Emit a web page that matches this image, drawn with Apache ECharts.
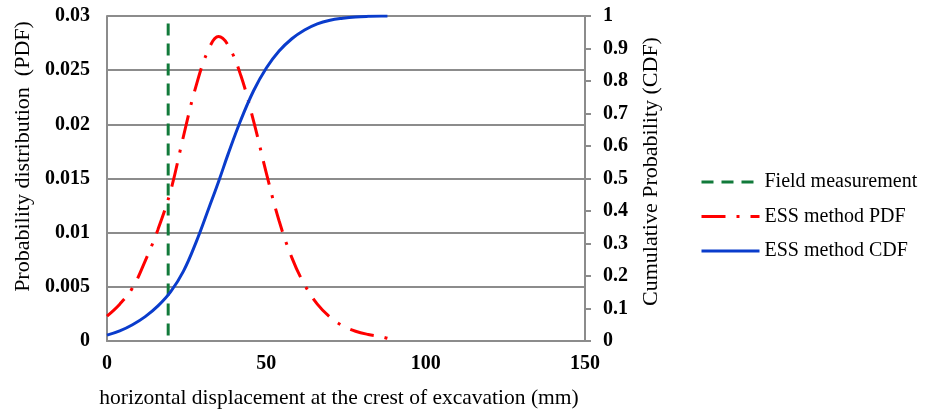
<!DOCTYPE html>
<html>
<head>
<meta charset="utf-8">
<script src="https://cdn.jsdelivr.net/npm/echarts@6/dist/echarts.min.js"></script>
<style>
  html, body { margin: 0; padding: 0; background: #fff; }
  #chart { width: 933px; height: 414px; }
</style>
</head>
<body>
<div id="chart"></div>
<script>
// Horizontal displacement (mm) at which both ESS curves are sampled
const displacement = [0, 4, 8, 12, 16, 20, 24, 28, 32, 35, 38, 42, 46, 50, 54, 58, 62, 66, 70, 74, 78, 82, 86, 88];
// ESS method probability density
const essPdf = [0.0023, 0.0034, 0.0049, 0.0074, 0.0103, 0.0139, 0.0189, 0.0236, 0.0270, 0.0281, 0.0273, 0.0245, 0.0203, 0.0155, 0.0111, 0.0077, 0.0052, 0.0034, 0.0022, 0.0014, 0.0009, 0.0006, 0.0004, 0.00025];
// ESS method cumulative probability
const essCdf = [0.018, 0.031, 0.050, 0.075, 0.108, 0.152, 0.215, 0.305, 0.410, 0.490, 0.575, 0.680, 0.770, 0.840, 0.892, 0.930, 0.957, 0.976, 0.987, 0.993, 0.997, 0.999, 1.0, 1.0];
// Field measurement (mm) drawn as a vertical marker, top to bottom
const fieldX = [19.2, 19.2];
const fieldY = [0.0293, 0];

const xTicks = [0, 50, 100, 150];
const pdfTicks = [0, 0.005, 0.01, 0.015, 0.02, 0.025, 0.03];
const cdfTicks = [0, 0.1, 0.2, 0.3, 0.4, 0.5, 0.6, 0.7, 0.8, 0.9, 1];

const serif = '"Liberation Serif", "Times New Roman", serif';
const gridGray = '#8c8c8c';

const zip = (xs, ys) => xs.map((x, i) => [x, ys[i]]);

const chart = echarts.init(document.getElementById('chart'), null, { renderer: 'canvas' });

chart.setOption({
  animation: false,
  backgroundColor: '#ffffff',
  grid: { left: 107, right: 348, top: 16, bottom: 72, containLabel: false },
  legend: {
    orient: 'vertical',
    left: 695,
    top: 167,
    itemWidth: 58,
    itemHeight: 14,
    itemGap: 14.5,
    itemStyle: { opacity: 0 },
    lineStyle: { width: 3 },
    textStyle: { fontFamily: serif, fontSize: 20, color: '#000' },
    data: ['Field measurement', 'ESS method PDF', 'ESS method CDF']
  },
  xAxis: {
    type: 'value',
    min: xTicks[0],
    max: xTicks[xTicks.length - 1],
    interval: 50,
    name: 'horizontal displacement at the crest of excavation (mm)',
    nameLocation: 'middle',
    nameGap: 46,
    nameTextStyle: { fontFamily: serif, fontSize: 21.5, color: '#000', padding: [0, 14, 0, 0] },
    axisLine: { lineStyle: { color: gridGray, width: 2 } },
    axisTick: { show: false },
    splitLine: { show: false },
    axisLabel: { fontFamily: serif, fontSize: 20, fontWeight: 'bold', color: '#000', margin: 13 }
  },
  yAxis: [
    {
      type: 'value',
      min: pdfTicks[0],
      max: pdfTicks[pdfTicks.length - 1],
      interval: 0.005,
      name: 'Probability distribution  (PDF)',
      nameLocation: 'middle',
      nameGap: 71,
      nameTextStyle: { fontFamily: serif, fontSize: 22, color: '#000', padding: [0, 0, 0, 44] },
      axisLine: { show: true, lineStyle: { color: gridGray, width: 2 } },
      axisTick: { show: false },
      splitLine: { show: true, lineStyle: { color: gridGray, width: 2 } },
      axisLabel: { fontFamily: serif, fontSize: 20, fontWeight: 'bold', color: '#000', margin: 17 }
    },
    {
      type: 'value',
      min: cdfTicks[0],
      max: cdfTicks[cdfTicks.length - 1],
      interval: 0.1,
      position: 'right',
      name: 'Cumulative Probability (CDF)',
      nameLocation: 'middle',
      nameGap: 55,
      nameRotate: 90,
      nameTextStyle: { fontFamily: serif, fontSize: 22, color: '#000', padding: [0, 0, 0, 14] },
      axisLine: { show: true, lineStyle: { color: gridGray, width: 2 } },
      axisTick: { show: true, inside: false, length: 6, lineStyle: { color: gridGray, width: 2 } },
      splitLine: { show: false },
      axisLabel: { fontFamily: serif, fontSize: 20, fontWeight: 'bold', color: '#000', margin: 18 }
    }
  ],
  series: [
    {
      name: 'Field measurement',
      type: 'line',
      yAxisIndex: 0,
      data: zip(fieldX, fieldY),
      symbol: 'none',
      lineStyle: { color: '#117a3a', width: 3, type: [12, 8] },
      itemStyle: { color: '#117a3a' },
      z: 3
    },
    {
      name: 'ESS method PDF',
      type: 'line',
      yAxisIndex: 0,
      data: zip(displacement, essPdf),
      smooth: 0.4,
      symbol: 'none',
      lineStyle: { color: '#ff0000', width: 3, type: [24, 11, 3, 11] },
      itemStyle: { color: '#ff0000' },
      z: 4
    },
    {
      name: 'ESS method CDF',
      type: 'line',
      yAxisIndex: 1,
      data: zip(displacement, essCdf),
      smooth: 0.4,
      symbol: 'none',
      lineStyle: { color: '#0a3ccc', width: 3 },
      itemStyle: { color: '#0a3ccc' },
      z: 5
    }
  ]
});
</script>
</body>
</html>
